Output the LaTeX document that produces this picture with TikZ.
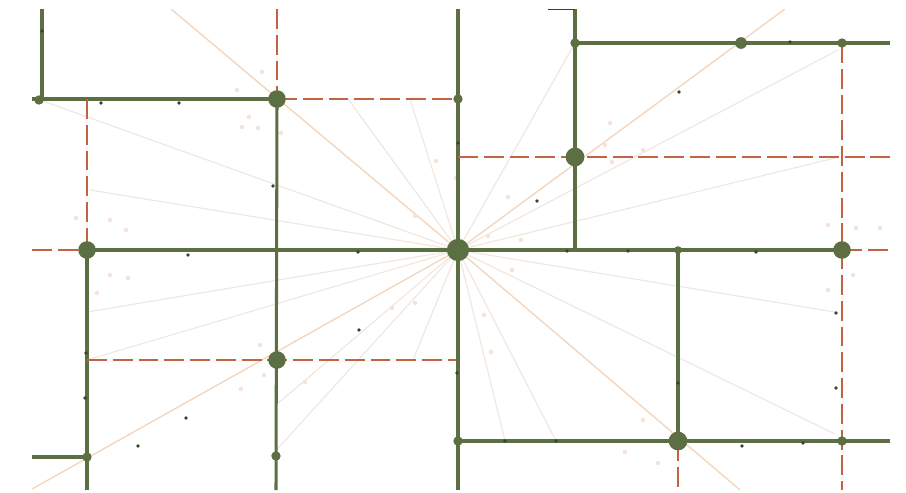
\documentclass[tikz,border=0pt]{standalone}
\definecolor{wallgreen}{RGB}{92,111,66}
\definecolor{cutred}{RGB}{194,100,68}
\definecolor{raypale}{RGB}{240,231,222}
\definecolor{rayhot}{RGB}{244,214,190}
\definecolor{dotdark}{RGB}{56,66,46}
\definecolor{speck}{RGB}{246,226,214}
\usetikzlibrary{calc}

\begin{document}
\begin{tikzpicture}[x=0.03cm, y=-0.03cm,
  wall/.style={wallgreen, line width=2.6pt},
  cut/.style={cutred, line width=2.35pt, dash pattern=on 17pt off 5pt},
  ray/.style={raypale, line width=1pt},
  hotray/.style={rayhot, line width=1.2pt},
  bigdot/.style={circle, fill=wallgreen, inner sep=0pt, minimum size=15pt},
  middot/.style={circle, fill=wallgreen, inner sep=0pt, minimum size=8pt}]
  \useasboundingbox (0,0) rectangle (906,492);
  \clip (32,9) rectangle (890,490);

  \coordinate (c) at (458,250);
  \coordinate (nw) at (277,99);
  \coordinate (n) at (458,99);
  \coordinate (w) at (87,250);
  \coordinate (sw) at (277,360);
  \coordinate (ne) at (575,157);
  \coordinate (e) at (842,250);
  \coordinate (se) at (678,441);
  \coordinate (top) at (741,43);
  \coordinate (s) at (458,441);
  \coordinate (corner) at (575,43);
  \coordinate (rim) at (842,43);
  \coordinate (hook) at (87,457);
  \coordinate (post) at (276,456);
  \coordinate (lc) at (42,99);
  \coordinate (sr) at (842,441);
  \coordinate (mr) at (678,250);

  \coordinate (lt) at (42,9);
  \coordinate (le) at (32,99);
  \coordinate (nwt) at (277,9);
  \coordinate (nwb) at (276,490);
  \coordinate (wt) at (87,99);
  \coordinate (wl) at (32,250);
  \coordinate (wb) at (87,490);
  \coordinate (hl) at (32,457);
  \coordinate (swr) at (458,360);
  \coordinate (swl) at (87,360);
  \coordinate (ct) at (458,9);
  \coordinate (cb) at (458,490);
  \coordinate (net) at (575,9);
  \coordinate (neb) at (575,250);
  \coordinate (nel) at (458,157);
  \coordinate (ner) at (890,157);
  \coordinate (rimr) at (890,43);
  \coordinate (er) at (890,250);
  \coordinate (rimb) at (842,490);
  \coordinate (seb) at (678,490);
  \coordinate (sre) at (890,441);
  \coordinate (stub) at (548,9);

  \foreach \x/\y [count=\i] in {40/100, 90/190, 348/99, 410/99, 575/43, 838/50,
    835/158, 835/312, 835/434, 556/441, 505/441, 413/360, 276/405, 271/456,
    87/360, 87/312}
    \coordinate (ray\i) at (\x,\y);
  \foreach \x/\y [count=\i] in {171/9, 785/9, 740/490, 32/489}
    \coordinate (hot\i) at (\x,\y);

  \foreach \i in {1,...,16}
    \draw[ray] (c) -- (ray\i);
  \foreach \i in {1,...,4}
    \draw[hotray] (c) -- (hot\i);

  \foreach \x/\y in {262/72, 237/90, 249/117, 258/128, 281/133, 242/127, 76/218,
    110/220, 126/230, 436/161, 456/178, 508/197, 415/216, 488/236, 521/240,
    610/123, 605/145, 612/162, 643/150, 828/225, 856/228, 880/228, 110/275,
    128/278, 97/293, 260/345, 264/375, 241/389, 512/270, 484/315, 491/352,
    305/382, 415/303, 828/290, 853/275, 643/420, 625/452, 658/463, 392/308}
    \fill[speck] (\x,\y) circle (1.9pt);

  \draw[wall] (lt) -- (lc);
  \draw[wall] (le) -- (nw);
  \draw[cut] (nwt) -- (nw);
  \draw[cut] (nw) -- (n);
  \draw[wall] (nw) -- (nwb);
  \draw[cut] (wt) -- (w);
  \draw[cut] (wl) -- (w);
  \draw[wall] (w) -- (e);
  \draw[cut] (e) -- (er);
  \draw[wall] (w) -- (wb);
  \draw[wall] (hl) -- (hook);
  \draw[cut] (swl) -- (swr);
  \draw[wall] (ct) -- (cb);
  \draw[wall] (net) -- (neb);
  \draw[cut] (nel) -- (ner);
  \draw[wall] (corner) -- (rimr);
  \draw[cut] (rim) -- (rimb);
  \draw[wall] (mr) -- (se);
  \draw[cut] (se) -- (seb);
  \draw[wall] (s) -- (sre);
  \draw[dotdark, line width=0.6pt] (stub) -- (net);

  \foreach \x/\y in {42/31, 101/103, 179/103, 273/186, 458/143, 537/201, 679/92,
    790/42, 188/255, 86/353, 85/398, 186/418, 138/446, 359/330, 358/252,
    457/373, 567/251, 628/251, 756/252, 836/313, 836/388, 678/383, 742/446,
    803/443, 505/441, 556/441}
    \fill[dotdark] (\x,\y) circle (1.6pt);

  \node[bigdot, minimum size=19pt] (hubdot) at (c) {};
  \node[bigdot] (nwdot) at (nw) {};
  \node[bigdot] (wdot) at (w) {};
  \node[bigdot] (swdot) at (sw) {};
  \node[bigdot, minimum size=16pt] (nedot) at (ne) {};
  \node[bigdot] (edot) at (e) {};
  \node[bigdot, minimum size=16pt] (sedot) at (se) {};
  \node[bigdot, minimum size=10pt] (topdot) at (top) {};
  \node[middot] (ndot) at (n) {};
  \node[middot] (sdot) at (s) {};
  \node[middot] (cornerdot) at (corner) {};
  \node[middot] (rimdot) at (rim) {};
  \node[middot] (hookdot) at (hook) {};
  \node[middot] (postdot) at (post) {};
  \node[middot] (lcdot) at (39,100) {};
  \node[middot] (srdot) at (sr) {};
  \node[middot, minimum size=6.5pt] (mrdot) at (mr) {};
\end{tikzpicture}
\end{document}
